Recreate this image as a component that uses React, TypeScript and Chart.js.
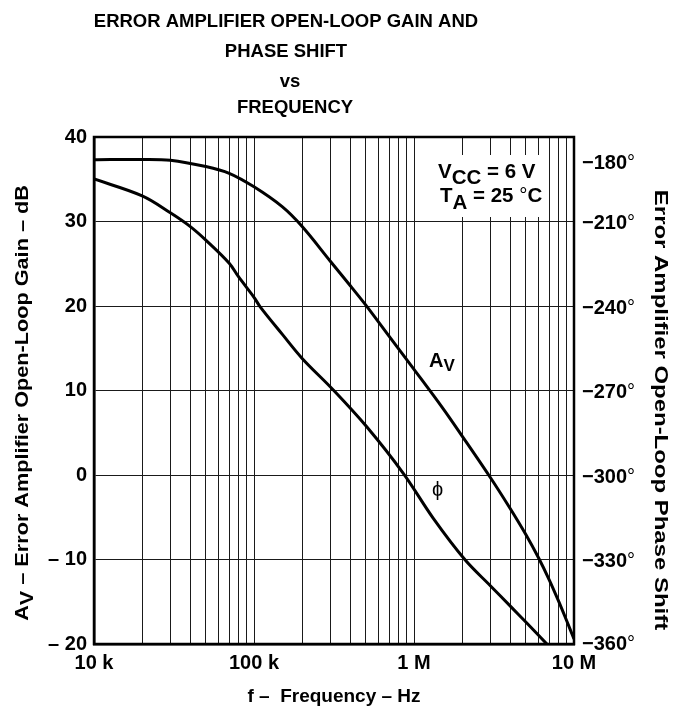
import React, { useEffect, useRef } from 'react';
import { Chart, registerables } from 'chart.js';

Chart.register(...registerables);

// ---- data ----
const gainFreq = [1e4, 2e4, 3e4, 5e4, 7e4, 1e5, 1.5e5, 2e5, 3e5, 4e5, 5e5, 7e5, 1e6, 1.5e6, 2e6, 3e6, 4e6, 5e6, 6e6, 7e6, 8e6, 9e6, 1e7];
const gainDb = [37.3, 37.35, 37.25, 36.5, 35.7, 34.1, 31.75, 29.4, 25.3, 22.4, 20.1, 16.4, 12.5, 8.0, 4.6, -0.3, -4.0, -7.05, -9.8, -12.4, -14.9, -17.25, -19.4];

const phaseFreq = [1e4, 2e4, 3e4, 4e4, 5e4, 7e4, 8e4, 1e5, 1.09e5, 1.5e5, 2e5, 3.13e5, 5.05e5, 8.57e5, 1.32e6, 2.09e6, 3e6, 4.07e6, 5e6, 6.77e6];
const phaseDeg = [-194.9, -200.9, -206.9, -211.8, -216.6, -224.8, -229.6, -236.9, -240.2, -250, -258.6, -269.8, -282.8, -299.4, -315.4, -330.2, -339.3, -347.0, -352.2, -360];

const decades = [1e4, 1e5, 1e6];
const gridMultipliers = [1, 2, 3, 4, 5, 6, 7, 8, 9];
const xEnd = 1e7;
const xTickValues = [1e4, 1e5, 1e6, 1e7];
const xTickLabels = ['10 k', '100 k', '1 M', '10 M'];

const gainTickValues = [40, 30, 20, 10, 0, -10, -20];
const gainTickLabels = ['40', '30', '20', '10', '0', '– 10', '– 20'];

const phaseTickValues = [-180, -210, -240, -270, -300, -330, -360];
const phaseTickLabels = ['−180', '−210', '−240', '−270', '−300', '−330', '−360'];

const titleLines = ['ERROR AMPLIFIER OPEN-LOOP GAIN AND', 'PHASE SHIFT', 'vs', 'FREQUENCY'];

const FONT = "'Liberation Sans', Arial, Helvetica, sans-serif";

type Run = { text: string; font: string; dy?: number };

function runsWidth(ctx: CanvasRenderingContext2D, runs: Run[]) {
  let w = 0;
  for (const r of runs) {
    ctx.font = r.font;
    w += ctx.measureText(r.text).width;
  }
  return w;
}

function drawRuns(ctx: CanvasRenderingContext2D, x: number, y: number, runs: Run[]) {
  let cx = x;
  for (const r of runs) {
    ctx.font = r.font;
    ctx.fillText(r.text, cx, y + (r.dy || 0));
    cx += ctx.measureText(r.text).width;
  }
}

const B = (s: number) => `bold ${s}px ${FONT}`;
const N = (s: number) => `${s}px ${FONT}`;

const decorPlugin = {
  id: 'decor',
  beforeDatasetsDraw(chart: any) {
    const ctx: CanvasRenderingContext2D = chart.ctx;
    ctx.save();
    ctx.fillStyle = '#fff';
    ctx.fillRect(426, 155, 118, 62);
    ctx.restore();
  },
  afterDraw(chart: any) {
    const ctx: CanvasRenderingContext2D = chart.ctx;
    const { left, top, right, bottom } = chart.chartArea;
    ctx.save();
    // frame
    ctx.strokeStyle = '#000';
    ctx.lineWidth = 2.5;
    ctx.strokeRect(left, top, right - left, bottom - top);

    ctx.fillStyle = '#000';
    ctx.textBaseline = 'alphabetic';
    // title
    const titleX = [286, 286, 290, 295];
    const titleY = [27, 57, 87, 113];
    ctx.textAlign = 'center';
    ctx.font = B(18.5);
    titleLines.forEach((t, i) => ctx.fillText(t, titleX[i], titleY[i]));

    ctx.textAlign = 'left';
    // conditions box
    drawRuns(ctx, 438, 178, [
      { text: 'V', font: B(20.5) },
      { text: 'CC', font: B(20.5), dy: 6 },
      { text: ' = 6 V', font: B(20.5) },
    ]);
    drawRuns(ctx, 440, 202, [
      { text: 'T', font: B(20.5) },
      { text: 'A', font: B(20.5), dy: 7 },
      { text: ' = 25 ', font: B(20.5) },
      { text: '°', font: N(20.5) },
      { text: 'C', font: B(20.5) },
    ]);

    // curve labels
    drawRuns(ctx, 429, 367, [
      { text: 'A', font: B(20) },
      { text: 'V', font: B(17), dy: 4 },
    ]);
    ctx.font = N(20);
    ctx.textAlign = 'center';
    ctx.fillText('\u03D5', 437.5, 496);

    // right axis tick labels
    const y2 = chart.scales.y2;
    ctx.textAlign = 'left';
    ctx.textBaseline = 'middle';
    phaseTickValues.forEach((v, i) => {
      let py = y2.getPixelForValue(v);
      if (i === 0) py += 26;
      else if (i < phaseTickValues.length - 1) py += 2;
      drawRuns(ctx, 582, py, [
        { text: phaseTickLabels[i], font: B(20) },
        { text: '°', font: N(20) },
      ]);
    });

    // left axis title
    const leftRuns: Run[] = [
      { text: 'A', font: B(19) },
      { text: 'V', font: B(19), dy: 5 },
      { text: ' – Error Amplifier Open-Loop Gain – dB', font: B(19) },
    ];
    ctx.save();
    ctx.translate(23, 403);
    ctx.rotate(-Math.PI / 2);
    ctx.textBaseline = 'middle';
    ctx.scale(1.14, 1);
    const lw = runsWidth(ctx, leftRuns);
    drawRuns(ctx, -lw / 2, 0, leftRuns);
    ctx.restore();

    // right axis title
    const rightRuns: Run[] = [{ text: 'Error Amplifier Open-Loop Phase Shift', font: B(19) }];
    ctx.save();
    ctx.translate(660, 410);
    ctx.rotate(Math.PI / 2);
    ctx.textBaseline = 'middle';
    ctx.scale(1.26, 1);
    const rw = runsWidth(ctx, rightRuns);
    drawRuns(ctx, -rw / 2, 0, rightRuns);
    ctx.restore();

    ctx.restore();
  },
};

export default function App() {
  const ref = useRef<HTMLCanvasElement>(null);

  useEffect(() => {
    document.body.style.margin = '0';
    Chart.defaults.font.family = FONT;
    const gridFreqs: number[] = [];
    decades.forEach((d) => gridMultipliers.forEach((m) => gridFreqs.push(d * m)));
    gridFreqs.push(xEnd);

    const chart = new Chart(ref.current as HTMLCanvasElement, {
      type: 'line',
      data: {
        datasets: [
          {
            label: 'AV',
            data: gainFreq.map((f, i) => ({ x: f, y: gainDb[i] })),
            yAxisID: 'y',
            borderColor: '#000',
            borderWidth: 3,
            pointRadius: 0,
            tension: 0.35,
            fill: false,
          },
          {
            label: 'phase',
            data: phaseFreq.map((f, i) => ({ x: f, y: phaseDeg[i] })),
            yAxisID: 'y2',
            borderColor: '#000',
            borderWidth: 3,
            pointRadius: 0,
            tension: 0.35,
            fill: false,
          },
        ],
      },
      options: {
        responsive: false,
        animation: false,
        devicePixelRatio: window.devicePixelRatio || 1,
        layout: { padding: { top: 137, left: 0, right: 0, bottom: 0 } },
        plugins: { legend: { display: false }, tooltip: { enabled: false }, title: { display: false } },
        scales: {
          x: {
            type: 'logarithmic',
            position: 'bottom',
            min: 1e4,
            max: 1e7,
            afterBuildTicks: (scale: any) => {
              scale.ticks = gridFreqs.map((v) => ({ value: v }));
            },
            afterFit: (scale: any) => {
              scale.height = 64;
            },
            ticks: {
              autoSkip: false,
              maxRotation: 0,
              padding: 7,
              color: '#000',
              font: { size: 20, weight: 'bold', family: FONT },
              callback: (v: any) => {
                const idx = xTickValues.indexOf(Number(v));
                return idx >= 0 ? xTickLabels[idx] : '';
              },
            },
            grid: { color: '#1a1a1a', lineWidth: 1, drawTicks: false },
            border: { display: true, color: '#000', width: 2.5 },
            title: {
              display: true,
              text: 'f –  Frequency – Hz',
              color: '#000',
              font: { size: 19, weight: 'bold', family: FONT },
              padding: { top: 0, bottom: 0 },
            },
          },
          y: {
            type: 'linear',
            position: 'left',
            min: -20,
            max: 40,
            afterBuildTicks: (scale: any) => {
              scale.ticks = gainTickValues.map((v) => ({ value: v }));
            },
            afterFit: (scale: any) => {
              scale.width = 94;
            },
            ticks: {
              padding: 7,
              color: '#000',
              font: { size: 20, weight: 'bold', family: FONT },
              callback: (v: any) => {
                const idx = gainTickValues.indexOf(Number(v));
                return idx >= 0 ? gainTickLabels[idx] : '';
              },
            },
            grid: { color: '#1a1a1a', lineWidth: 1, drawTicks: false },
            border: { display: true, color: '#000', width: 2.5 },
          },
          y2: {
            type: 'linear',
            position: 'right',
            min: -360,
            max: -180,
            afterFit: (scale: any) => {
              scale.width = 100;
            },
            ticks: { display: false },
            grid: { display: false, drawTicks: false },
            border: { display: false },
          },
        },
      } as any,
      plugins: [decorPlugin],
    });
    return () => chart.destroy();
  }, []);

  return (
    <div style={{ width: 674, height: 708, position: 'relative' }}>
      <canvas ref={ref} width={674} height={708} style={{ display: 'block', width: 674, height: 708 }} />
    </div>
  );
}
